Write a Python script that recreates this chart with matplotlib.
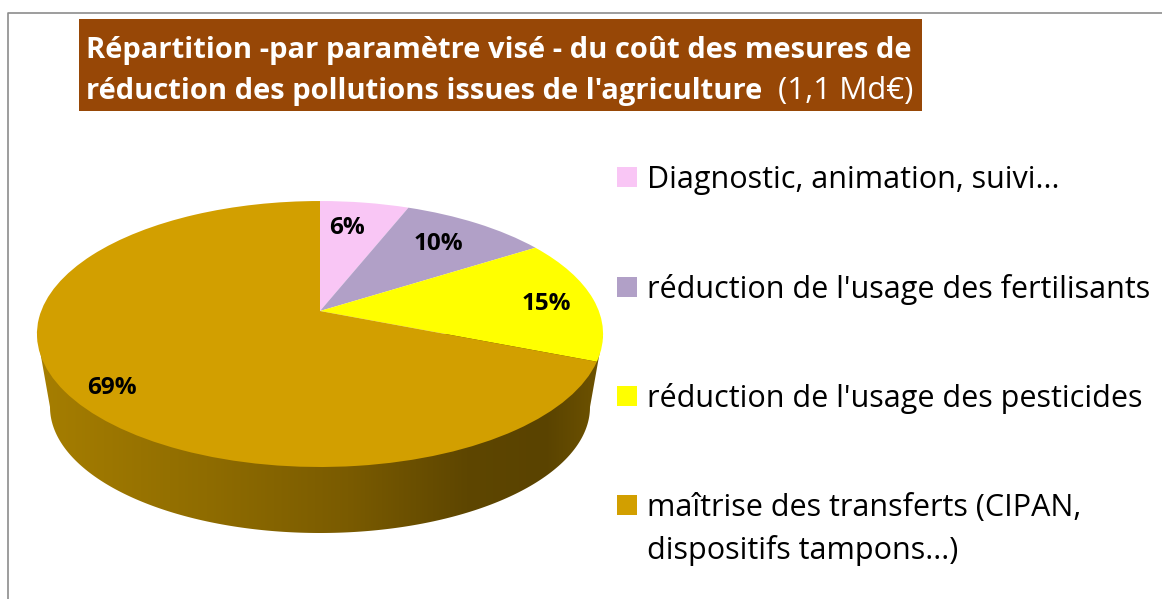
import matplotlib
matplotlib.use("Agg")
import matplotlib.pyplot as plt
import numpy as np
from matplotlib.colors import LinearSegmentedColormap
from matplotlib.patches import Polygon, Rectangle
from matplotlib.transforms import Transform

plt.rcParams['font.family'] = ['Open Sans', 'DejaVu Sans']

labels = ["Diagnostic, animation, suivi...",
          "réduction de l'usage des fertilisants",
          "réduction de l'usage des pesticides",
          "maîtrise des transferts (CIPAN,\ndispositifs tampons...)"]
values = [6, 10, 15, 69]
colors = ["#F9C6F5", "#B1A0C7", "#FFFF00", "#D29F00"]
title_1 = "Répartition -par paramètre visé - du coût des mesures de"
title_2 = "réduction des pollutions issues de l'agriculture"
title_3 = "(1,1 Md€)"


class Tilt(Transform):
    # unit circle -> tilted disc, in pixels, apex above the ellipse centre
    input_dims = 2
    output_dims = 2
    is_separable = False

    def transform_non_affine(self, xy):
        xy = np.asarray(xy)
        d = 1 + 0.173 * xy[:, 1]
        return np.column_stack([320 + 278.8 * xy[:, 0] / d,
                                (311 - 75.2 * xy[:, 1]) / d])


fig = plt.figure(figsize=(11.62, 5.99), dpi=100)
ax = fig.add_axes([0, 0, 1, 1])

# pie first, it resets limits and aspect
wedges, _ = ax.pie(values, colors=colors, startangle=90, counterclock=False,
                   wedgeprops=dict(linewidth=0))
ax.set_aspect('auto')
ax.set_xlim(0, 1162)
ax.set_ylim(599, 0)
ax.axis('off')

tilt = Tilt()
for w in wedges:
    w.set_transform(tilt + ax.transData)
    w.set_zorder(3)

# side of the disc
t = np.linspace(np.pi, 0, 200)
edge = np.column_stack([320 + 270 * np.cos(t), 407 + 126 * np.sin(t)])
side = Polygon(np.vstack([[37, 334], edge, [603, 334]]), closed=True,
               transform=ax.transData, fc='none', ec='none')
ax.add_patch(side)
cmap = LinearSegmentedColormap.from_list("side", [(0, "#A67E00"), (0.3, "#8F6C00"),
                                                  (0.55, "#7A5B00"), (0.76, "#5E4600"),
                                                  (0.9, "#5A4300"), (1, "#6E5300")])
im = ax.imshow(np.linspace(0, 1, 256)[None, :], cmap=cmap, extent=(37, 603, 540, 320),
               aspect='auto', zorder=2)
im.set_clip_path(side)
ax.set_xlim(0, 1162)
ax.set_ylim(599, 0)

# percent labels
label_pos = [(347, 228), (438, 244), (546, 304), (112, 388)]
for v, (x, y) in zip(values, label_pos):
    ax.text(x, y, f"{v}%", ha='center', va='center', fontsize=17.5, fontweight='bold',
            color='black', zorder=4)

# title block
ax.add_patch(Rectangle((79, 19), 843, 92, fc="#974706", ec='none', zorder=3))
ax.text(86, 58, title_1, color='white', fontsize=21, fontweight='bold', va='baseline', zorder=4)
ax.text(86, 99, title_2, color='white', fontsize=21, fontweight='bold', va='baseline', zorder=4)
ax.text(778, 99, title_3, color='white', fontsize=22.5, va='baseline', zorder=4)

# legend
baselines = [188, 298, 407, 516]
for lab, col, b in zip(labels, colors, baselines):
    ax.add_patch(Rectangle((617, b - 21), 20, 20, fc=col, ec='none', zorder=3))
    for i, line in enumerate(lab.split("\n")):
        ax.text(647, b + i * 43, line, fontsize=22, color='black', va='baseline', zorder=4)

# chart frame, only top and left show
ax.plot([8, 8, 1162], [599, 13, 13], color="#8C8C8C", lw=1.2, zorder=1, clip_on=False)

fig.savefig("out.png", dpi=100)
